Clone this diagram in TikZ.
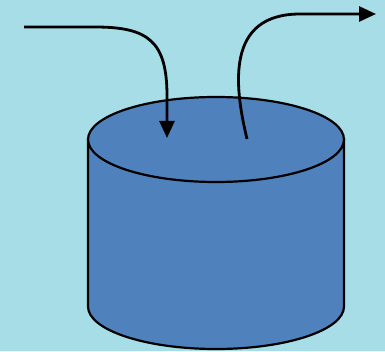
\documentclass[tikz,border=0pt]{standalone}
\usetikzlibrary{arrows.meta}
\definecolor{bgwater}{RGB}{166,221,230}
\definecolor{cylblue}{RGB}{79,129,189}
\tikzset{
  flowline/.style={line width=2.8pt, -{Triangle[length=17pt,width=15pt]}},
  cylpart/.style={fill=cylblue, draw=black, line width=2.2pt},
}
\begin{document}
\begin{tikzpicture}[x=1pt,y=1pt]
\fill[bgwater] (0,0) rectangle (385,351);
\useasboundingbox (0,0) rectangle (385,351);
% cylinder geometry
\coordinate (topc) at (216,211.5);
\coordinate (tl) at (88,211.5);
\coordinate (bl) at (88,44.5);
\coordinate (tr) at (344,211.5);
% body
\path[cylpart] (tl) -- (bl) arc[start angle=180,end angle=360,x radius=128,y radius=42.5] -- (tr) -- cycle;
% top face
\path[cylpart] (topc) ellipse [x radius=128, y radius=42.5];
% arrows
\coordinate (inStart) at (24,324);
\coordinate (inBend) at (95,324);
\coordinate (inEnd) at (167,213);
\coordinate (outStart) at (247,212);
\coordinate (outBend) at (300,337);
\coordinate (outEnd) at (376,337);
\draw[flowline] (inStart) -- (inBend) .. controls (148,324) and (167,310) .. (167,255) -- (inEnd);
\draw[flowline] (outStart) .. controls (234,266) and (226,337) .. (outBend) -- (outEnd);
\end{tikzpicture}
\end{document}
